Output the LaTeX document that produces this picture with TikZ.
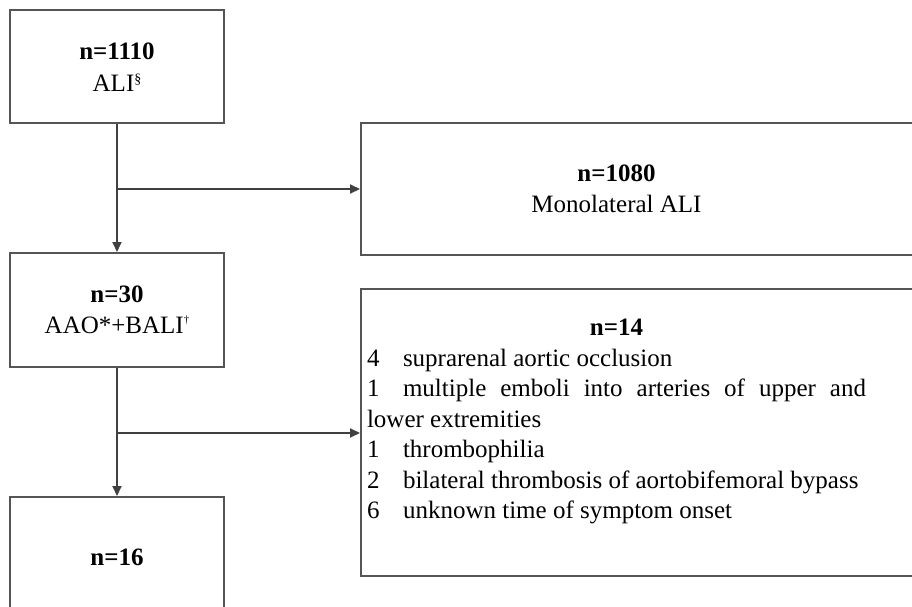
\documentclass[tikz,border=0pt]{standalone}
\usepackage{fontspec}
\setmainfont{Liberation Serif}
\usepackage{xcolor}
\usepackage{tikz}
\usetikzlibrary{arrows.meta}
\definecolor{boxgray}{RGB}{85,85,85}
\definecolor{flowgray}{RGB}{64,64,64}
\newcommand{\upmark}[3]{\raisebox{#1}{\fontsize{#2}{#2}\selectfont #3}}
\newcommand{\plainpar}{\rightskip=0pt \leftskip=0pt \spaceskip=0pt \xspaceskip=0pt
    \parfillskip=0pt plus 1fil \parindent=0pt \hyphenpenalty=10000 }

\begin{document}
\begin{tikzpicture}[x=1pt, y=-1pt,
    box/.style={draw=boxgray, line width=2pt, inner sep=6pt, align=center,
        font=\fontsize{25pt}{31.5pt}\selectfont},
    flow/.style={draw=flowgray, line width=2pt, -{Triangle[length=10pt, width=9pt]}}]
    \useasboundingbox (0,0) rectangle (912,607);
    \clip (0,0) rectangle (912,607);

    % Left column
    \node[box, minimum width=214pt, minimum height=113pt] (ali) at (117,67)
        {\textbf{n=1110}\\ALI\upmark{8pt}{14pt}{§}};
    \node[box, minimum width=214pt, minimum height=114pt] (aao) at (117,310)
        {\textbf{n=30}\\AAO*+BALI\upmark{10pt}{11pt}{†}};
    \node[box, minimum width=214pt, minimum height=120pt] (rest) at (117,557)
        {\textbf{n=16}};

    % Right column (boxes run past the right edge)
    \node[box, align=left, text width=552pt, minimum height=132pt] (mono) at (643,189)
        {\parbox{499pt}{\plainpar\centering\textbf{n=1080}\\Monolateral ALI}};
    \node[box, align=left, text width=552pt, minimum height=287pt,
        font=\fontsize{25pt}{30.5pt}\selectfont] (excl) at (643,432.5)
        {\parbox[c][275pt][t]{499pt}{\plainpar\vspace*{24pt}%
        {\centering\textbf{n=14}\par}
        \makebox[36pt][l]{4}suprarenal aortic occlusion\par
        \makebox[36pt][l]{1}multiple emboli into arteries of upper and\linebreak
        lower extremities\par
        \makebox[36pt][l]{1}thrombophilia\par
        \makebox[36pt][l]{2}bilateral thrombosis of aortobifemoral bypass\par
        \makebox[36pt][l]{6}unknown time of symptom onset}};

    % Connectors
    \coordinate (split1) at (117,189);
    \coordinate (split2) at (117,433);
    \draw[flow] (ali) -- (aao);
    \draw[flow] (split1) -- (split1 -| mono.west);
    \draw[flow] (aao) -- (rest);
    \draw[flow] (split2) -- (split2 -| excl.west);
\end{tikzpicture}
\end{document}
